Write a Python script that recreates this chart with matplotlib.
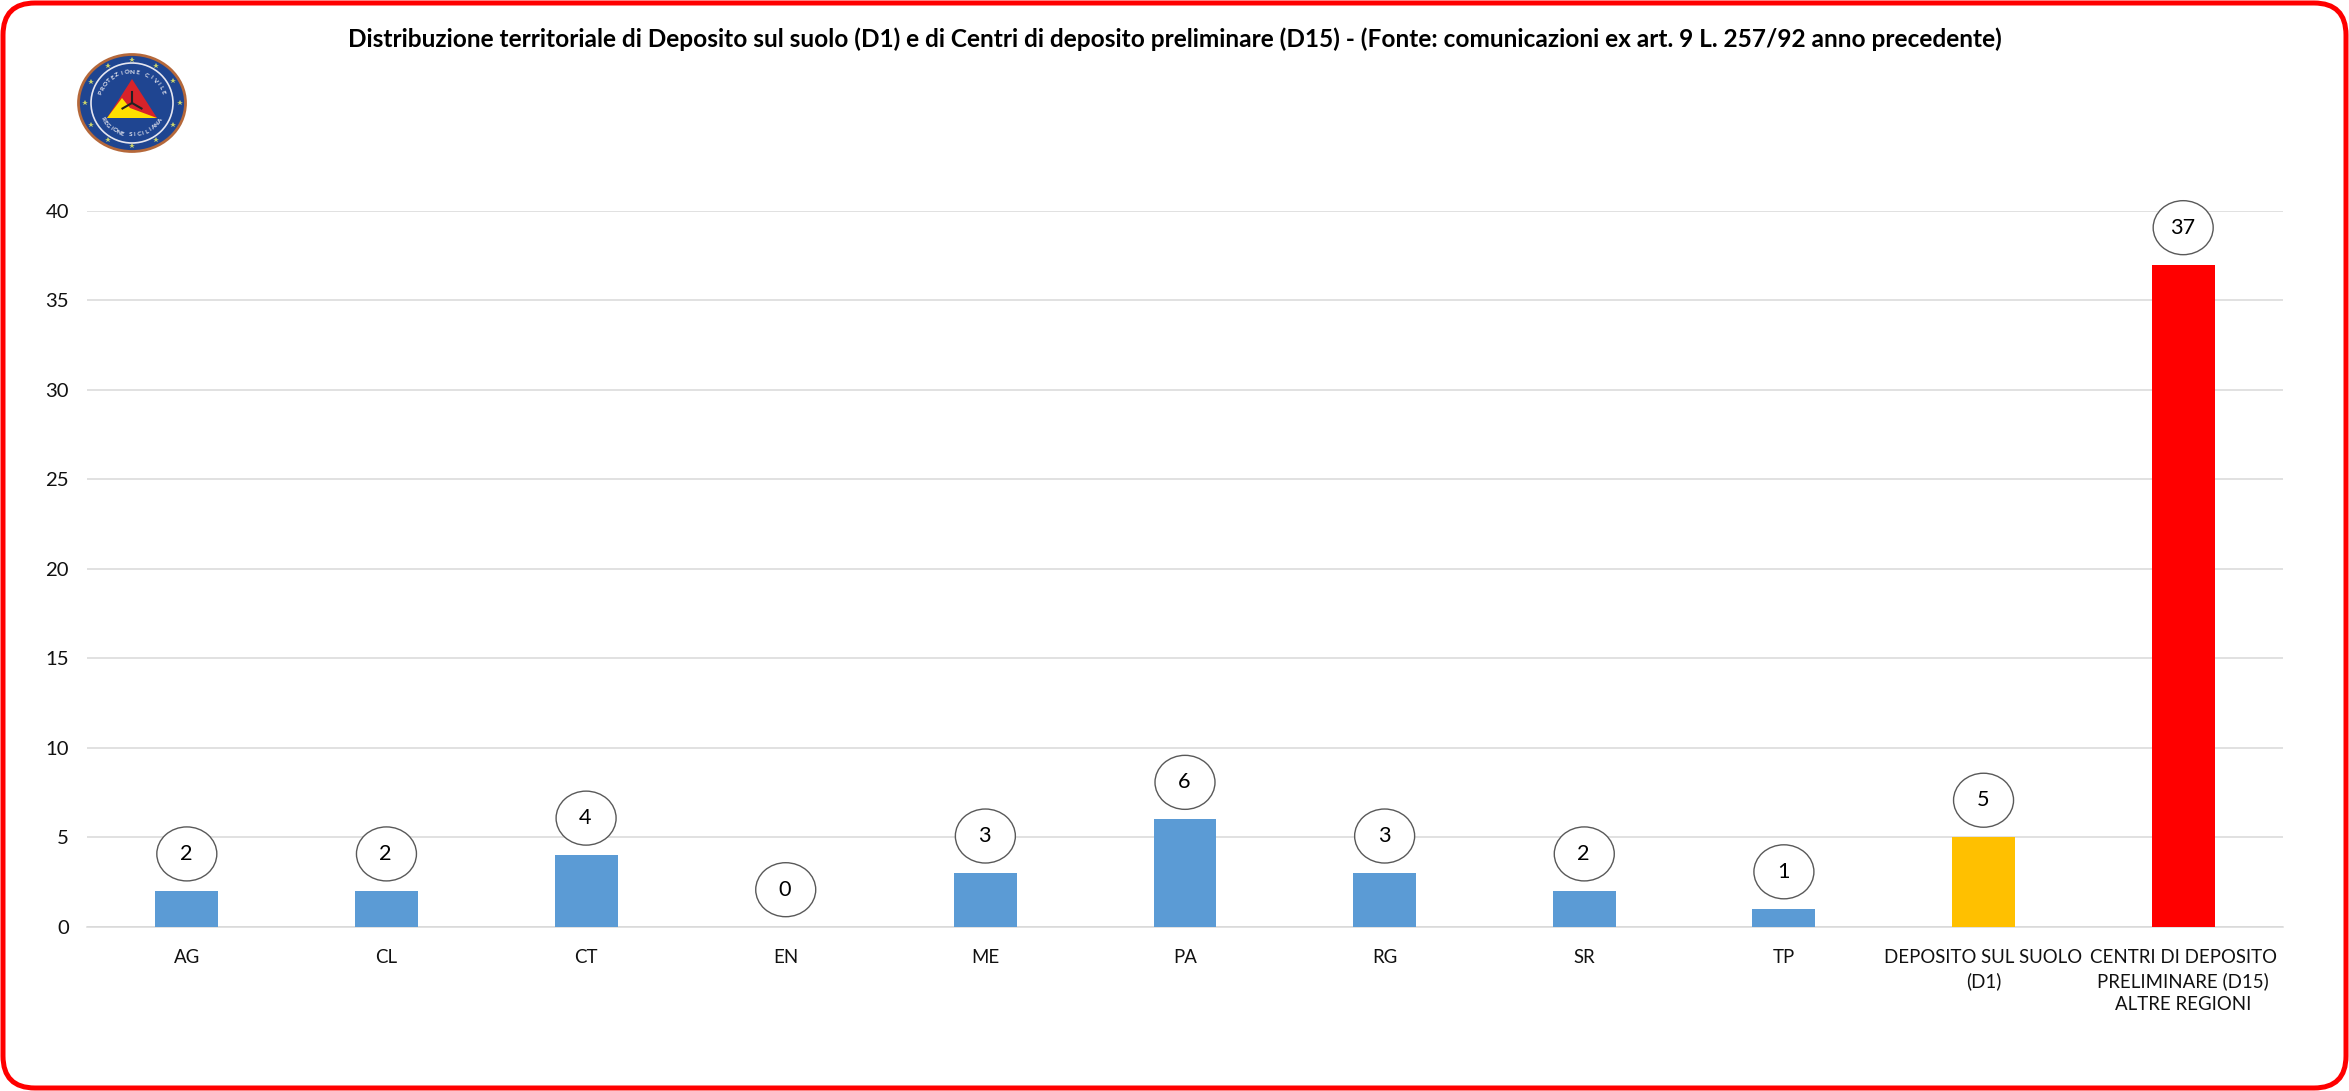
import numpy as np
import matplotlib
matplotlib.use('Agg')
import matplotlib.pyplot as plt
from matplotlib.patches import FancyBboxPatch, Ellipse, Polygon
from matplotlib.transforms import IdentityTransform

W, H = 2349, 1091

categories = ['AG', 'CL', 'CT', 'EN', 'ME', 'PA', 'RG', 'SR', 'TP',
              'DEPOSITO SUL SUOLO\n(D1)',
              'CENTRI DI DEPOSITO\nPRELIMINARE (D15)\nALTRE REGIONI']
values = [2, 2, 4, 0, 3, 6, 3, 2, 1, 5, 37]
colors = ['#5B9BD5'] * 9 + ['#FFC000', '#FF0000']
yticks = [0, 5, 10, 15, 20, 25, 30, 35, 40]
title = ('Distribuzione territoriale di Deposito sul suolo (D1) e di Centri di deposito '
         'preliminare (D15) - (Fonte: comunicazioni ex art. 9 L. 257/92 anno precedente)')

plt.rcParams['font.family'] = ['Lato', 'DejaVu Sans']

fig = plt.figure(figsize=(W / 100, H / 100), dpi=100)

# Background layer in pixel coordinates: frame, title, logo
bg = fig.add_axes([0, 0, 1, 1])
bg.set_xlim(0, W)
bg.set_ylim(H, 0)
bg.axis('off')
bg.add_patch(FancyBboxPatch((30, 30), W - 60, H - 60, boxstyle='round,pad=27,rounding_size=32',
                            fc='white', ec='#FF0000', lw=3.6))
bg.text(1175, 39, title, ha='center', va='center', fontsize=17.6, fontweight='bold', color='black')

# Logo
cx, cy = 132, 103
bg.add_patch(Ellipse((cx, cy), 107, 97, fc='#1F4591', ec='#B5683A', lw=2))
bg.add_patch(Ellipse((cx, cy), 82, 80, fc='#1F4591', ec='#E6E6F0', lw=1.2))
bg.add_patch(Polygon([(cx, cy - 24), (cx + 25, cy + 15), (cx - 25, cy + 15)], fc='#D8232A', ec='none'))
bg.add_patch(Polygon([(cx - 25, cy + 15), (cx - 10, cy - 5), (cx - 2, cy + 5), (cx + 25, cy + 15)],
                     fc='#FFE000', ec='none'))
for a in [90, 210, 330]:
    r = np.radians(a)
    bg.plot([cx, cx + 11 * np.cos(r)], [cy, cy - 11 * np.sin(r)], color='#222222', lw=1.5)
for a in np.arange(0, 360, 30):
    bg.plot(cx + 47.5 * np.cos(np.radians(a)), cy + 43 * np.sin(np.radians(a)), marker='*',
            ms=4, color='#C9D36A', mew=0)
for txt, start, stop, rx, ry, sign in [('PROTEZIONE CIVILE', 200, 340, 33, 31, 1),
                                       ('REGIONE SICILIANA', 150, 35, 34, 32, -1)]:
    for ch, a in zip(txt, np.linspace(start, stop, len(txt))):
        r = np.radians(a)
        bg.text(cx + rx * np.cos(r), cy + ry * np.sin(r), ch, fontsize=4.6, color='#E8E8F0',
                ha='center', va='center', rotation=-(a + 90 * sign), fontweight='bold')

# Main chart
left, right, top, bottom = 87, 2283, 211, 926.7
ax = fig.add_axes([left / W, 1 - bottom / H, (right - left) / W, (bottom - top) / H])
ax.patch.set_alpha(0)
x = np.arange(len(categories))
ax.bar(x, values, width=0.315, color=colors, zorder=3)
ax.set_xlim(-0.5, len(categories) - 0.5)
ax.set_ylim(0, 40)
ax.set_yticks(yticks)
ax.set_xticks(x)
ax.set_xticklabels(categories, linespacing=1.42)
ax.tick_params(axis='x', length=0, labelsize=13.4, colors='#111111', pad=16)
ax.tick_params(axis='y', length=0, labelsize=14.6, colors='#111111', pad=13)
ax.grid(axis='y', color='#D9D9D9', lw=1.1, zorder=0)
ax.set_axisbelow(True)
for side in ['top', 'right', 'left']:
    ax.spines[side].set_visible(False)
ax.spines['bottom'].set_color('#D9D9D9')
ax.spines['bottom'].set_linewidth(1.1)

# Value labels in ellipses, placed from the bar tops
for xi, v in zip(x, values):
    px, py = ax.transData.transform((xi, v))
    ax.add_patch(Ellipse((px, py + 37), 60, 54, transform=IdentityTransform(), fc='white',
                         ec='#595959', lw=1, zorder=4, clip_on=False))
    ax.annotate(str(v), (xi, v), xytext=(-0.5, 26.6), textcoords='offset points',
                ha='center', va='center', fontsize=15.6, color='black', zorder=5)

fig.savefig('out.png', dpi=100)
